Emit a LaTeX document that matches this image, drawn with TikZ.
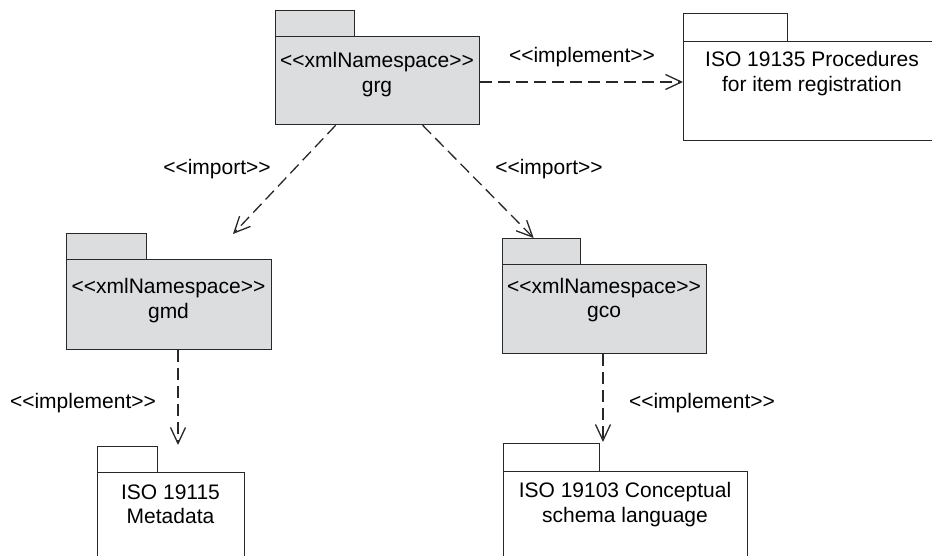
\documentclass[tikz,border=0pt]{standalone}
\usepackage{fontspec}
\setmainfont{Liberation Sans}[Ligatures=TeXOff]
\usetikzlibrary{arrows.meta,calc}
\definecolor{pkgfill}{RGB}{220,221,223}
\definecolor{ink}{RGB}{40,40,40}
\tikzset{
  pkgpart/.style={draw=ink, line width=1.3pt, rectangle, inner sep=0pt, anchor=north west},
  nsfill/.style={fill=pkgfill},
  pkgtext/.style={align=center, font=\fontsize{21}{24.5}\selectfont, inner sep=0pt, text=black},
  lbl/.style={font=\fontsize{21}{24.5}\selectfont, inner sep=0pt, text=black},
  dep/.style={draw=ink, line width=1.3pt, dash pattern=on 12pt off 6pt,
    -{Straight Barb[length=16pt,width=15pt,line width=1.3pt]}}
}
\begin{document}
\begin{tikzpicture}[x=1pt,y=-1pt]
\useasboundingbox (0,0) rectangle (932,556);
\clip (0,0) rectangle (932,556);

% grg
\node[pkgpart,nsfill,minimum width=79pt,minimum height=26pt] (grgtab) at (275,10) {};
\node[pkgpart,nsfill,minimum width=204pt,minimum height=88pt] (grg) at (275,36) {};
\node[pkgtext] (grgtxt) at (377,74.5) {<<xmlNamespace>>\\grg};

% ISO 19135
\node[pkgpart,minimum width=104pt,minimum height=28pt] (isoatab) at (683,13) {};
\node[pkgpart,minimum width=258pt,minimum height=99pt] (isoa) at (683,41) {};
\node[pkgtext] (isoatxt) at (812,73.5) {ISO 19135 Procedures\\for item registration};

% gmd
\node[pkgpart,nsfill,minimum width=80pt,minimum height=26pt] (gmdtab) at (66,233) {};
\node[pkgpart,nsfill,minimum width=205pt,minimum height=90pt] (gmd) at (66,259) {};
\node[pkgtext] (gmdtxt) at (168.5,300.5) {<<xmlNamespace>>\\gmd};

% gco
\node[pkgpart,nsfill,minimum width=78pt,minimum height=26pt] (gcotab) at (502,238) {};
\node[pkgpart,nsfill,minimum width=204pt,minimum height=89pt] (gco) at (502,264) {};
\node[pkgtext] (gcotxt) at (604,300) {<<xmlNamespace>>\\gco};

% ISO 19115
\node[pkgpart,minimum width=60pt,minimum height=26pt] (isobtab) at (97,446) {};
\node[pkgpart,minimum width=147pt,minimum height=130pt] (isob) at (97,472) {};
\node[pkgtext] (isobtxt) at (170.5,504.5) {ISO 19115\\Metadata};

% ISO 19103
\node[pkgpart,minimum width=96pt,minimum height=28pt] (isoctab) at (503,443) {};
\node[pkgpart,minimum width=244pt,minimum height=130pt] (isoc) at (503,471) {};
\node[pkgtext] (isoctxt) at (625,504.5) {ISO 19103 Conceptual\\schema language};

% connector ends
\coordinate (gmdend) at (233,234);
\coordinate (isobend) at (178,445);
\coordinate (isocend) at (603,442);

% connectors
\draw[dep] (grg.east |- 0,82) -- (isoa.west |- 0,82);
\draw[dep] ([xshift=-42pt]grg.south) -- (gmdend);
\draw[dep] ([xshift=45pt]grg.south) -- ([xshift=-8pt]gcotab.north);
\draw[dep] (isobend |- gmd.south) -- (isobend);
\draw[dep] (isocend |- gco.south) -- (isocend);

% labels
\node[lbl] (l1) at (582,57) {<<implement>>};
\node[lbl] (l2) at (217,169) {<<import>>};
\node[lbl] (l3) at (549,169) {<<import>>};
\node[lbl] (l4) at (83,403) {<<implement>>};
\node[lbl] (l5) at (702,403) {<<implement>>};
\end{tikzpicture}
\end{document}
